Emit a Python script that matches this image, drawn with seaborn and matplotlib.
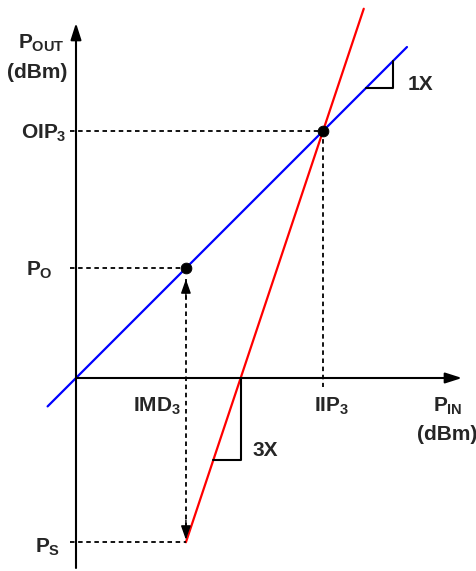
import numpy as np
import matplotlib
matplotlib.use("Agg")
import matplotlib.pyplot as plt
import seaborn as sns

# values (arbitrary dBm units)
iip3 = 20.0
oip3 = 20.0
pin_tone = 8.9      # IMD3 input level
po = 8.9            # fundamental output at that input
ps = -13.3          # 3rd order product at that input
fund_x = [-2.3, 26.8]
fund_y = [-2.3, 26.8]
imd_x = [8.9, 23.3]
imd_y = [-13.3, 29.9]
dots_x = [pin_tone, iip3]
dots_y = [po, oip3]

sns.set_style("white")
plt.rcParams["font.family"] = ["Liberation Sans", "DejaVu Sans"]
plt.rcParams["font.weight"] = "bold"
plt.rcParams["mathtext.fontset"] = "custom"
plt.rcParams["mathtext.rm"] = "Liberation Sans:bold"
plt.rcParams["mathtext.it"] = "Liberation Sans:bold"
plt.rcParams["mathtext.bf"] = "Liberation Sans:bold"

S = 12.35  # pixels per unit
fig = plt.figure(figsize=(4.76, 5.71), dpi=100)
ax = fig.add_axes([0, 0, 1, 1])
ax.set_xlim(-76 / S, 400 / S)
ax.set_ylim(-193 / S, 378 / S)
ax.axis("off")

def P(px, py):
    return (px - 76) / S, (378 - py) / S

arrow_ax = dict(arrowstyle="-|>,head_length=1.0,head_width=0.32", color="black",
                lw=1.5, shrinkA=0, shrinkB=0)
ax.annotate("", xy=P(462, 378), xytext=(0, 0), arrowprops=arrow_ax)
ax.annotate("", xy=P(76, 23), xytext=P(76, 568), arrowprops=arrow_ax)

# characteristic lines
sns.lineplot(x=fund_x, y=fund_y, color="#0000FF", lw=1.6, ax=ax)
sns.lineplot(x=imd_x, y=imd_y, color="#FF0000", lw=1.6, ax=ax)

# dashed projections
dash = dict(color="black", lw=1.3, ls=(0, (2.5, 2)))
x0 = -0.5
ax.plot([x0, iip3], [oip3, oip3], **dash)
ax.plot([iip3, iip3], [oip3, -0.7], **dash)
ax.plot([x0, pin_tone], [po, po], **dash)
ax.plot([x0, pin_tone], [ps, ps], **dash)
ax.plot([pin_tone, pin_tone], [po - 0.9, ps + 0.3], **dash)
head = dict(arrowstyle="-|>,head_length=0.85,head_width=0.3", color="black",
            lw=1.0, shrinkA=0, shrinkB=0)
ax.annotate("", xy=(pin_tone, po - 0.9), xytext=(pin_tone, po - 2.5), arrowprops=head)
ax.annotate("", xy=(pin_tone, ps + 0.2), xytext=(pin_tone, ps + 1.8), arrowprops=head)

sns.scatterplot(x=dots_x, y=dots_y, color="black", s=60, edgecolor="black",
                zorder=5, ax=ax)

# slope triangles
x1, run1 = 23.45, 2.25
ax.plot([x1, x1 + run1, x1 + run1], [x1, x1, x1 + run1], color="black", lw=1.5)
xz = 2 * iip3 / 3
run3 = 2.22
ax.plot([xz, xz, xz - run3], [0, -3 * run3, -3 * run3], color="black", lw=1.5)

fs = 15
ax.text(*P(18, 43), r"$P_{OUT}$", fontsize=fs, ha="left", va="center")
ax.text(*P(37, 72), "(dBm)", fontsize=fs, ha="center", va="center")
ax.text(*P(67, 133), r"$OIP_3$", fontsize=fs, ha="right", va="center")
ax.text(*P(53, 270), r"$P_O$", fontsize=fs, ha="right", va="center")
ax.text(*P(60, 547), r"$P_S$", fontsize=fs, ha="right", va="center")
ax.text(*P(157, 406), r"$IMD_3$", fontsize=fs, ha="center", va="center")
ax.text(*P(332, 406), r"$IIP_3$", fontsize=fs, ha="center", va="center")
ax.text(*P(448, 406), r"$P_{IN}$", fontsize=fs, ha="center", va="center")
ax.text(*P(447, 434), "(dBm)", fontsize=fs, ha="center", va="center")
ax.text(*P(265, 450), "3X", fontsize=fs, ha="center", va="center")
ax.text(*P(420, 84), "1X", fontsize=fs, ha="center", va="center")

fig.savefig("out.png", dpi=100)
